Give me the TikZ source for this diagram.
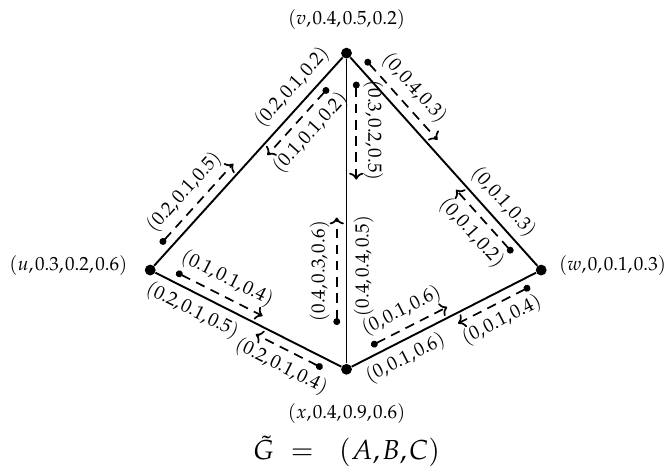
\documentclass[tikz,border=0pt]{standalone}
\usepackage{mathpazo}
\usepackage{tikz}
\usetikzlibrary{positioning, arrows.meta, calc}

\newcommand{\arcoff}{0.18cm}
\thinmuskip=1.5mu

\begin{document}
\begin{tikzpicture}[
  vtx/.style={circle, fill=black, inner sep=0pt, minimum size=0.2cm},
  vlab/.style={font=\normalsize},
  edg/.style={line width=1pt},
  arc/.style={{Circle[length=3.6pt]}-{To}, line width=0.9pt, dash pattern=on 5pt off 3.5pt},
  lbl/.style={font=\normalsize, sloped},
]
\useasboundingbox (0,0) rectangle (12.3,8.62);

% ── vertices ──
\node[vtx] (u) at (2.77,3.64) {};
\node[vtx] (v) at (6.39,7.64) {};
\node[vtx] (w) at (9.98,3.64) {};
\node[vtx] (x) at (6.39,1.81) {};

% ── vertex labels ──
\node[vlab, left=0.19cm of u, yshift=0.09cm] (ul) {$(u,0.3,0.2,0.6)$};
\node[vlab, above=0.2cm of v] (vl) {$(v,0.4,0.5,0.2)$};
\node[vlab, right=0.1cm of w, yshift=0.09cm] (wl) {$(w,0,0.1,0.3)$};
\node[vlab, below=0.4cm of x] (xl) {$(x,0.4,0.9,0.6)$};

% ── edges ──
\draw[edg] (u) -- node[lbl, above, pos=0.8] {$(0.2,0.1,0.2)$} (v);
\draw[edg] (v) -- node[lbl, above, pos=0.75] {$(0,0.1,0.3)$} (w);
\draw[edg] (x) -- node[lbl, below, pos=0.32] {$(0.4,0.4,0.5)$} (v);
\draw[edg] (u) -- node[lbl, below, pos=0.24] {$(0.2,0.1,0.5)$} (x);
\draw[edg] (x) -- node[lbl, below, pos=0.25] {$(0,0.1,0.6)$} (w);

% ── directed arcs (left of travel) ──
\draw[arc] ($(u)!0.09!(v)!\arcoff!90:(v)$) -- node[lbl, above] {$(0.2,0.1,0.5)$} ($(u)!0.46!(v)!\arcoff!90:(v)$);
\draw[arc] ($(v)!0.13!(u)!\arcoff!90:(u)$) -- node[lbl, below] {$(0.1,0.1,0.2)$} ($(v)!0.44!(u)!\arcoff!90:(u)$);
\draw[arc] ($(v)!0.06!(w)!\arcoff!90:(w)$) -- node[lbl, above] {$(0,0.4,0.3)$} ($(v)!0.43!(w)!\arcoff!90:(w)$);
\draw[arc] ($(w)!0.11!(v)!\arcoff!90:(v)$) -- node[lbl, below] {$(0,0.1,0.2)$} ($(w)!0.40!(v)!\arcoff!90:(v)$);
\draw[arc] ($(v)!0.09!(x)!\arcoff!90:(x)$) -- node[lbl, above] {$(0.3,0.2,0.5)$} ($(v)!0.40!(x)!\arcoff!90:(x)$);
\draw[arc] ($(x)!0.14!(v)!\arcoff!90:(v)$) -- node[lbl, above] {$(0.4,0.3,0.6)$} ($(x)!0.48!(v)!\arcoff!90:(v)$);
\draw[arc] ($(u)!0.11!(x)!\arcoff!90:(x)$) -- node[lbl, above] {$(0.1,0.1,0.4)$} ($(u)!0.55!(x)!\arcoff!90:(x)$);
\draw[arc] ($(x)!0.10!(u)!\arcoff!90:(u)$) -- node[lbl, below] {$(0.2,0.1,0.4)$} ($(x)!0.44!(u)!\arcoff!90:(u)$);
\draw[arc] ($(x)!0.15!(w)!\arcoff!90:(w)$) -- node[lbl, above] {$(0,0.1,0.6)$} ($(x)!0.54!(w)!\arcoff!90:(w)$);
\draw[arc] ($(w)!0.08!(x)!\arcoff!90:(x)$) -- node[lbl, below] {$(0,0.1,0.4)$} ($(w)!0.45!(x)!\arcoff!90:(x)$);

% ── caption ──
\node (title) at (6.39,0.3) {\Large $\tilde{G}\ =\ \ (A,B,C)$};
\end{tikzpicture}
\end{document}
